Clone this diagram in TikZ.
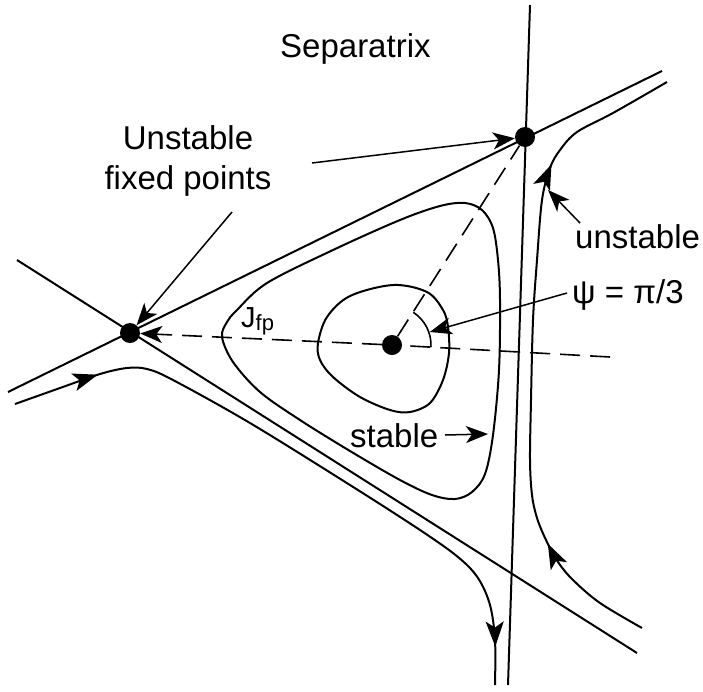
\documentclass[tikz,border=0pt]{standalone}
\usepackage{fontspec}
\setmainfont{Liberation Sans}
\usetikzlibrary{arrows.meta,calc,decorations.markings}

\begin{document}
\begin{tikzpicture}[x=1pt,y=1pt,
  sep/.style={line width=2pt},
  orbit/.style={line width=2pt},
  flow/.style 2 args={line width=2pt,
    decoration={markings,
      mark=at position #1 with {\arrow{Stealth[length=25pt,width=18pt,inset=6pt]}},
      mark=at position #2 with {\arrow{Stealth[length=25pt,width=18pt,inset=6pt]}}},
    postaction={decorate}},
  guide/.style={line width=1.6pt,dash pattern=on 20pt off 10pt},
  fixpt/.style={circle,fill=black,inner sep=0pt,minimum size=20pt},
  lbl/.style={font=\fontsize{33}{40}\selectfont,inner sep=0pt},
  tip/.style={-{Stealth[length=22pt,width=17pt,inset=6pt]},line width=1.5pt}
]
\useasboundingbox (0,0) rectangle (703,-691);

\node[fixpt] (fpL) at (130,-333) {};
\node[fixpt] (fpR) at (525,-137) {};
\node[fixpt] (ctr) at (392,-345) {};

\coordinate (sepA1) at (17,-260);
\coordinate (sepA2) at (637,-653);
\coordinate (sepB1) at (8,-392);
\coordinate (sepB2) at (662,-71);
\coordinate (sepC1) at (530,-5);
\coordinate (sepC2) at (508,-685);
\draw[sep] (sepA1) -- (sepA2);
\draw[sep] (sepB1) -- (sepB2);
\draw[sep] (sepC1) -- (sepC2);

\draw[orbit] plot[smooth cycle,tension=0.55] coordinates {(222,-337) (227,-322) (237,-310) (267,-283) (333,-250) (400,-220)
  (440,-206) (465,-203) (482,-210) (493,-228) (498,-260) (500,-300) (499,-370) (493,-435) (485,-474) (472,-492)
  (455,-499) (432,-495) (400,-480) (350,-451) (300,-420) (260,-392) (233,-362)};
\draw[orbit] plot[smooth cycle,tension=0.55] coordinates {(318,-343) (327,-317) (350,-296) (393,-285) (427,-292)
  (443,-310) (448,-327) (449,-353) (443,-380) (430,-403) (410,-412) (390,-410) (360,-397) (333,-377) (320,-360)};

\draw[flow={0.137}{0.94}] plot[smooth,tension=0.55] coordinates {(15,-404) (60,-388) (100,-374) (127,-368) (147,-369)
  (173,-380) (250,-423) (350,-485) (420,-530) (458,-557) (478,-578) (490,-605) (495,-640) (495,-685)};
\draw[flow={0.196}{0.78}] plot[smooth,tension=0.55] coordinates {(642,-628) (600,-603) (573,-580) (558,-562) (546,-540)
  (537,-518) (532,-495) (530,-460) (531,-400) (533,-320) (537,-260) (542,-200) (550,-168) (560,-150) (577,-132)
  (613,-113) (667,-82)};

\coordinate (dashEnd) at (610,-357);
\draw[guide] (dashEnd) -- (ctr);
\draw[guide,-{Stealth[length=22pt,width=17pt,inset=6pt]}] (ctr) -- (fpL);
\draw[guide] (ctr) -- (fpR);
\draw[line width=1.6pt] ($(ctr)+(-3:39)$) arc[start angle=-3,end angle=57,radius=39];

\node[lbl,anchor=base west] (sepLabel) at (280,-57) {Separatrix};
\node[lbl,align=center] (fpLabel) at (188,-161) {Unstable\\fixed points};
\node[lbl,anchor=base west] (unstLabel) at (575,-248) {unstable};
\node[lbl,anchor=base west] (psiLabel) at (572,-303) {ψ = π/3};
\node[lbl,anchor=base west] (stabLabel) at (350,-447) {stable};
\node[anchor=base west,inner sep=0pt,font=\fontsize{29}{34}\selectfont] (jLabel) at (241,-327) {J\raisebox{-3pt}{\fontsize{22}{26}\selectfont fp}};

\coordinate (fpTailA) at (232,-212);
\coordinate (fpTailB) at (312,-163);
\coordinate (unstTail) at (580,-223);
\coordinate (unstTip) at (548,-190);
\coordinate (psiTail) at (567,-293);
\coordinate (stabTail) at (445,-435);
\coordinate (stabTip) at (488,-434);
\draw[tip] (fpTailA) -- (fpL);
\draw[tip] (fpTailB) -- (fpR);
\draw[tip] (unstTail) -- (unstTip);
\draw[tip] (psiTail) -- ($(ctr)+(19:40)$);
\draw[tip] (stabTail) -- (stabTip);
\end{tikzpicture}
\end{document}
